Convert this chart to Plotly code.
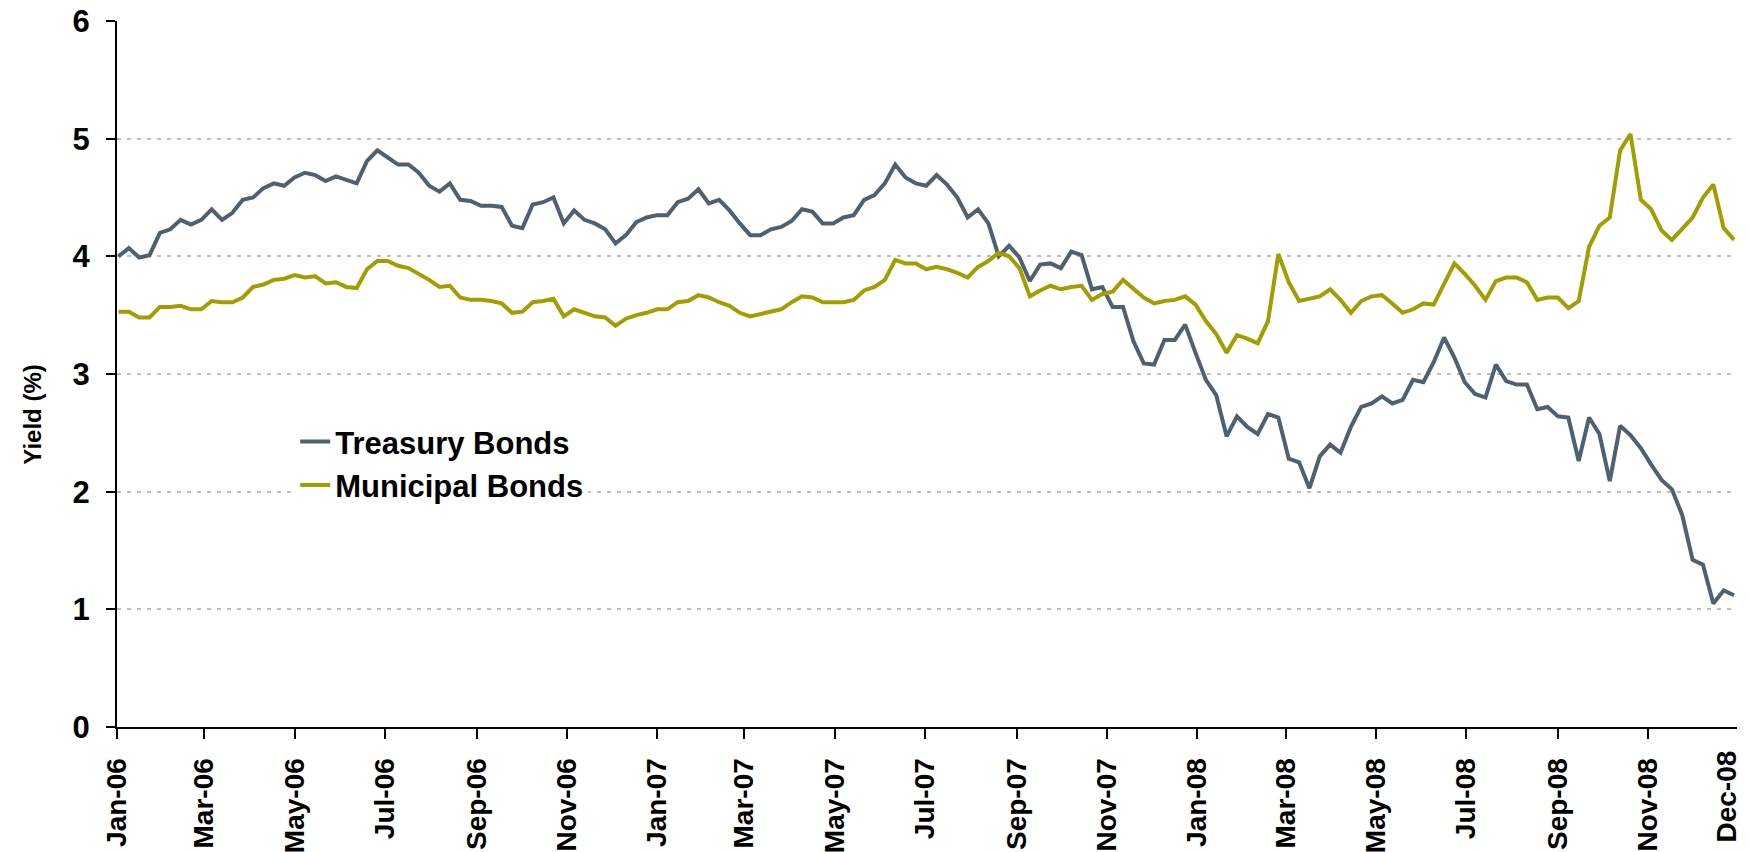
import pandas as pd
import plotly.graph_objects as go

# Weekly observation dates (Mondays), Jan 2006 - Dec 2008
dates = pd.date_range("2006-01-02", periods=157, freq="7D")

treasury = [
    4.00, 4.07, 3.99, 4.01, 4.20, 4.23, 4.31, 4.27, 4.31, 4.40,
    4.31, 4.37, 4.48, 4.50, 4.58, 4.62, 4.60, 4.67, 4.71, 4.69,
    4.64, 4.68, 4.65, 4.62, 4.81, 4.90, 4.84, 4.78, 4.78, 4.71,
    4.60, 4.55, 4.62, 4.48, 4.47, 4.43, 4.43, 4.42, 4.26, 4.24,
    4.44, 4.46, 4.50, 4.28, 4.39, 4.31, 4.28, 4.23, 4.11, 4.18,
    4.29, 4.33, 4.35, 4.35, 4.46, 4.49, 4.57, 4.45, 4.48, 4.39,
    4.28, 4.18, 4.18, 4.23, 4.25, 4.30, 4.40, 4.38, 4.28, 4.28,
    4.33, 4.35, 4.48, 4.52, 4.62, 4.78, 4.67, 4.62, 4.60, 4.69,
    4.61, 4.50, 4.33, 4.40, 4.28, 4.00, 4.09, 3.99, 3.79, 3.93,
    3.94, 3.90, 4.04, 4.01, 3.72, 3.74, 3.57, 3.57, 3.28, 3.09,
    3.08, 3.29, 3.29, 3.42, 3.18, 2.95, 2.82, 2.47, 2.64, 2.55,
    2.49, 2.66, 2.63, 2.28, 2.25, 2.03, 2.30, 2.40, 2.33, 2.55,
    2.72, 2.75, 2.81, 2.75, 2.78, 2.95, 2.93, 3.10, 3.31, 3.14,
    2.93, 2.83, 2.80, 3.08, 2.94, 2.91, 2.91, 2.70, 2.72, 2.64,
    2.63, 2.26, 2.63, 2.49, 2.09, 2.56, 2.48, 2.37, 2.23, 2.10,
    2.02, 1.80, 1.42, 1.38, 1.05, 1.16, 1.12,
]

municipal = [
    3.53, 3.53, 3.48, 3.48, 3.57, 3.57, 3.58, 3.55, 3.55, 3.62,
    3.61, 3.61, 3.65, 3.74, 3.76, 3.80, 3.81, 3.84, 3.82, 3.83,
    3.77, 3.78, 3.74, 3.73, 3.89, 3.96, 3.96, 3.92, 3.90, 3.85,
    3.80, 3.74, 3.75, 3.65, 3.63, 3.63, 3.62, 3.60, 3.52, 3.53,
    3.61, 3.62, 3.64, 3.49, 3.55, 3.52, 3.49, 3.48, 3.41, 3.47,
    3.50, 3.52, 3.55, 3.55, 3.61, 3.62, 3.67, 3.65, 3.61, 3.58,
    3.52, 3.49, 3.51, 3.53, 3.55, 3.61, 3.66, 3.65, 3.61, 3.61,
    3.61, 3.63, 3.71, 3.74, 3.80, 3.97, 3.94, 3.94, 3.89, 3.91,
    3.89, 3.86, 3.82, 3.91, 3.96, 4.03, 4.00, 3.90, 3.66, 3.71,
    3.75, 3.72, 3.74, 3.75, 3.63, 3.68, 3.70, 3.80, 3.72, 3.65,
    3.60, 3.62, 3.63, 3.66, 3.59, 3.45, 3.34, 3.18, 3.33, 3.30,
    3.26, 3.45, 4.02, 3.78, 3.62, 3.64, 3.66, 3.72, 3.63, 3.52,
    3.62, 3.66, 3.67, 3.60, 3.52, 3.55, 3.60, 3.59, 3.77, 3.94,
    3.85, 3.75, 3.63, 3.79, 3.82, 3.82, 3.78, 3.63, 3.65, 3.65,
    3.56, 3.62, 4.08, 4.26, 4.33, 4.90, 5.04, 4.48, 4.40, 4.22,
    4.14, 4.23, 4.33, 4.50, 4.61, 4.24, 4.14,
]

tick_dates = ["2006-01-01", "2006-03-01", "2006-05-01", "2006-07-01", "2006-09-01",
              "2006-11-01", "2007-01-01", "2007-03-01", "2007-05-01", "2007-07-01",
              "2007-09-01", "2007-11-01", "2008-01-01", "2008-03-01", "2008-05-01",
              "2008-07-01", "2008-09-01", "2008-11-01"]
tick_labels = ["Jan-06", "Mar-06", "May-06", "Jul-06", "Sep-06", "Nov-06",
               "Jan-07", "Mar-07", "May-07", "Jul-07", "Sep-07", "Nov-07",
               "Jan-08", "Mar-08", "May-08", "Jul-08", "Sep-08", "Nov-08"]
last_label_date = "2008-12-24"
last_label = "Dec-08"

FONT = "Liberation Sans, Arial, sans-serif"
TREAS_COLOR = "#4F6071"
MUNI_COLOR = "#A39E00"

fig = go.Figure()
fig.add_trace(go.Scatter(x=dates, y=treasury, mode="lines", name="Treasury Bonds",
                         line=dict(color=TREAS_COLOR, width=4)))
fig.add_trace(go.Scatter(x=dates, y=municipal, mode="lines", name="Municipal Bonds",
                         line=dict(color=MUNI_COLOR, width=4)))

fig.update_layout(
    width=1749, height=852,
    margin=dict(l=117, r=12, t=21, b=125, autoexpand=False),
    paper_bgcolor="white", plot_bgcolor="white",
    font=dict(family=FONT, color="black"),
    showlegend=True,
    legend=dict(
        x=0.110, y=0.442, xanchor="left", yanchor="top",
        bgcolor="white", borderwidth=0,
        font=dict(family=FONT, size=31, weight="bold", color="black"),
        tracegroupgap=0,
    ),
    xaxis=dict(
        range=["2006-01-01", "2008-12-31"],
        tickmode="array", tickvals=tick_dates, ticktext=tick_labels,
        tickangle=-90,
        tickfont=dict(family=FONT, size=28, weight="bold", color="black"),
        ticks="outside", ticklen=10, tickwidth=2, tickcolor="black",
        showline=True, linecolor="black", linewidth=2,
        showgrid=False, zeroline=False, automargin=False,
        ticklabelstandoff=8,
    ),
    yaxis=dict(
        range=[0, 6], tickmode="linear", tick0=0, dtick=1,
        tickfont=dict(family=FONT, size=31, weight="bold", color="black"),
        ticks="outside", ticklen=9, tickwidth=2, tickcolor="black",
        showline=True, linecolor="black", linewidth=2,
        showgrid=True, gridcolor="#BFBFBF", gridwidth=1.5, griddash="4px,6px",
        zeroline=False, automargin=False,
        ticklabelstandoff=10,
    ),
    annotations=[
        dict(text="Yield (%)", xref="paper", yref="paper", x=-0.052, y=0.442,
             xanchor="center", yanchor="middle", textangle=-90, showarrow=False,
             font=dict(family=FONT, size=24, weight="bold", color="black")),
        dict(text=last_label, xref="x", yref="paper", x=last_label_date, y=-0.031,
             xanchor="center", yanchor="top", textangle=-90, showarrow=False,
             font=dict(family=FONT, size=28, weight="bold", color="black")),
    ],
)

fig.write_html("out.html")
